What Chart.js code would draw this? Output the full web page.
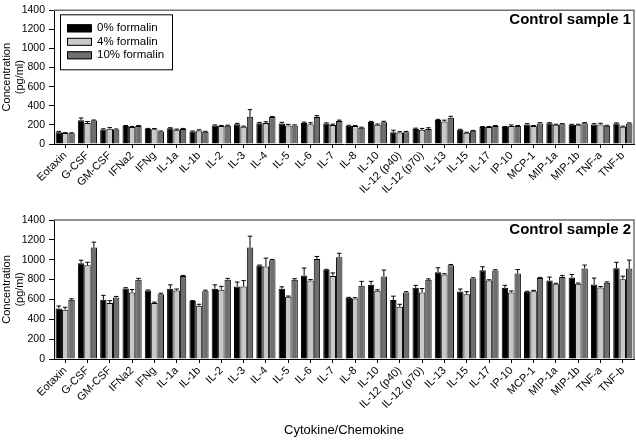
<!DOCTYPE html>
<html>
<head>
<meta charset="utf-8">
<script src="https://cdn.jsdelivr.net/npm/chart.js@4.4.1/dist/chart.umd.min.js"></script>
<style>
  body { margin: 0; background: #fff; }
  #wrap { position: relative; width: 636px; height: 440px; }
  canvas { position: absolute; left: 0; }
</style>
</head>
<body>
<div id="wrap">
  <canvas id="chart1" width="636" height="200" style="top:0"></canvas>
  <canvas id="chart2" width="636" height="240" style="top:200px"></canvas>
</div>
<script>
const categories = ['Eotaxin', 'G-CSF', 'GM-CSF', 'IFNa2', 'IFNg', 'IL-1a', 'IL-1b', 'IL-2', 'IL-3', 'IL-4', 'IL-5', 'IL-6', 'IL-7',
  'IL-8', 'IL-10', 'IL-12 (p40)', 'IL-12 (p70)', 'IL-13', 'IL-15', 'IL-17', 'IP-10', 'MCP-1', 'MIP-1a', 'MIP-1b', 'TNF-a', 'TNF-b'];
const seriesNames = ['0% formalin', '4% formalin', '10% formalin'];
const yTicks = [0, 200, 400, 600, 800, 1000, 1200, 1400];

// Control sample 1
const s1_0 = [124, 248, 151, 188, 158, 164, 131, 195, 208, 218, 215, 221, 215, 191, 231, 124, 158, 252, 148, 178, 178, 205, 218, 201, 205, 215];
const s1_4 = [114, 221, 160, 178, 154, 148, 141, 188, 181, 221, 195, 208, 198, 188, 201, 121, 148, 235, 117, 178, 188, 188, 201, 201, 205, 181];
const s1_10 = [112, 245, 151, 188, 131, 158, 128, 191, 285, 282, 195, 282, 242, 171, 228, 124, 158, 275, 138, 188, 188, 215, 208, 218, 191, 215];
const s1_0err = [8, 25, 8, 6, 5, 6, 5, 5, 8, 8, 12, 8, 6, 5, 6, 20, 8, 6, 6, 5, 5, 8, 5, 5, 8, 6];
const s1_4err = [5, 15, 12, 6, 8, 8, 8, 6, 6, 12, 10, 15, 10, 6, 8, 8, 15, 15, 6, 6, 12, 6, 6, 6, 12, 6];
const s1_10err = [5, 6, 6, 6, 5, 5, 5, 6, 75, 6, 5, 15, 8, 5, 10, 8, 12, 15, 5, 6, 6, 8, 5, 6, 5, 6];

// Control sample 2
const s2_0 = [509, 965, 596, 710, 690, 707, 583, 707, 730, 941, 707, 841, 898, 616, 747, 593, 717, 874, 680, 894, 717, 677, 790, 821, 750, 914];
const s2_4 = [496, 944, 563, 670, 563, 690, 536, 697, 730, 931, 626, 790, 837, 610, 687, 526, 670, 851, 653, 790, 670, 683, 753, 757, 720, 804];
const s2_10 = [596, 1122, 620, 797, 653, 837, 683, 797, 1122, 995, 797, 1008, 1025, 737, 831, 670, 797, 944, 810, 891, 861, 817, 827, 911, 767, 911];
const s2_0err = [25, 30, 45, 8, 5, 40, 5, 40, 45, 5, 20, 75, 5, 5, 35, 40, 25, 45, 25, 35, 25, 5, 35, 30, 65, 60];
const s2_4err = [25, 30, 25, 30, 10, 15, 15, 35, 60, 85, 8, 10, 30, 8, 10, 25, 40, 8, 25, 8, 15, 8, 10, 8, 10, 30];
const s2_10err = [10, 55, 10, 15, 10, 5, 10, 15, 115, 8, 12, 25, 40, 45, 65, 8, 10, 8, 8, 8, 40, 5, 15, 35, 10, 85];

const barColors = ['#000000', '#c8c8c8', '#6e6e6e'];

Chart.defaults.font.family = "'Liberation Sans', Arial, sans-serif";
Chart.defaults.color = '#000';

// error bars (upper only) drawn with the chart's own y scale
const errorBars = {
  id: 'errorBars',
  afterDatasetsDraw(chart) {
    let ctx = chart.ctx;
    let y = chart.scales.y;
    ctx.save();
    ctx.strokeStyle = '#000';
    ctx.lineWidth = 1;
    chart.data.datasets.forEach((ds, i) => {
      let meta = chart.getDatasetMeta(i);
      meta.data.forEach((bar, j) => {
        let top = y.getPixelForValue(ds.data[j] + ds.errors[j]);
        let half = bar.width * 0.35;
        ctx.beginPath();
        ctx.moveTo(bar.x, bar.y);
        ctx.lineTo(bar.x, top);
        ctx.moveTo(bar.x - half, top);
        ctx.lineTo(bar.x + half, top);
        ctx.stroke();
      });
    });
    ctx.restore();
  }
};

// frame, panel title and legend box
const decorations = {
  id: 'decorations',
  afterDraw(chart) {
    let ctx = chart.ctx;
    let a = chart.chartArea;
    let opts = chart.options.plugins.decorations;
    ctx.save();
    ctx.strokeStyle = '#707070';
    ctx.lineWidth = 1.5;
    ctx.beginPath();
    ctx.moveTo(a.left, a.top);
    ctx.lineTo(a.right, a.top);
    ctx.lineTo(a.right, a.bottom);
    ctx.stroke();

    ctx.fillStyle = '#000';
    ctx.font = "bold 15px 'Liberation Sans', Arial, sans-serif";
    ctx.textAlign = 'right';
    ctx.textBaseline = 'middle';
    ctx.fillText(opts.title, a.right - 3, a.top + 10);

    if (opts.legend) {
      let lx = a.left + 6, ly = a.top + 4;
      ctx.strokeStyle = '#000';
      ctx.lineWidth = 1;
      ctx.strokeRect(lx + 0.5, ly + 0.5, 112, 55);
      ctx.font = "11.5px 'Liberation Sans', Arial, sans-serif";
      ctx.textAlign = 'left';
      chart.data.datasets.forEach((ds, i) => {
        let cy = ly + 14 + i * 13.5;
        ctx.fillStyle = ds.backgroundColor;
        ctx.fillRect(lx + 7, cy - 4, 24, 8);
        ctx.strokeRect(lx + 7.5, cy - 3.5, 24, 7);
        ctx.fillStyle = '#000';
        ctx.fillText(ds.label, lx + 37, cy);
      });
    }
    ctx.restore();
  }
};

function makeChart(id, data, errs, title, showLegend, padTop, xHeight, showXTitle) {
  let ctx = document.getElementById(id).getContext('2d');
  return new Chart(ctx, {
    type: 'bar',
    data: {
      labels: categories,
      datasets: seriesNames.map((name, i) => ({
        label: name,
        data: data[i],
        errors: errs[i],
        backgroundColor: barColors[i],
        borderColor: '#000',
        borderWidth: 1,
        categoryPercentage: 0.86,
        barPercentage: 1.0
      }))
    },
    options: {
      responsive: false,
      animation: false,
      layout: { padding: { top: padTop, right: 2, left: 0, bottom: 0 } },
      plugins: {
        legend: { display: false },
        tooltip: { enabled: false },
        decorations: { title: title, legend: showLegend }
      },
      scales: {
        x: {
          grid: { display: true, drawOnChartArea: false, offset: false, tickLength: 4, color: '#000' },
          border: { color: '#000', width: 1 },
          ticks: { autoSkip: false, minRotation: 45, maxRotation: 45, padding: 1, font: { size: 11 } },
          title: { display: showXTitle, text: 'Cytokine/Chemokine', font: { size: 13 }, padding: { top: 0, bottom: 2 } },
          afterFit: s => { s.height = xHeight; }
        },
        y: {
          min: 0,
          max: 1400,
          afterBuildTicks: s => { s.ticks = yTicks.map(v => ({ value: v })); },
          grid: { display: true, drawOnChartArea: false, tickLength: 5, color: '#000' },
          border: { color: '#000', width: 1 },
          ticks: { padding: 4, font: { size: 10.5 }, callback: v => String(v) },
          title: { display: true, text: ['Concentration', '(pg/ml)'], font: { size: 11 }, padding: 0 },
          afterFit: s => { s.width = 54; }
        }
      }
    },
    plugins: [errorBars, decorations]
  });
}

makeChart('chart1', [s1_0, s1_4, s1_10], [s1_0err, s1_4err, s1_10err], 'Control sample 1', true, 5, 56, false);
makeChart('chart2', [s2_0, s2_4, s2_10], [s2_0err, s2_4err, s2_10err], 'Control sample 2', false, 20, 81, true);
</script>
</body>
</html>
